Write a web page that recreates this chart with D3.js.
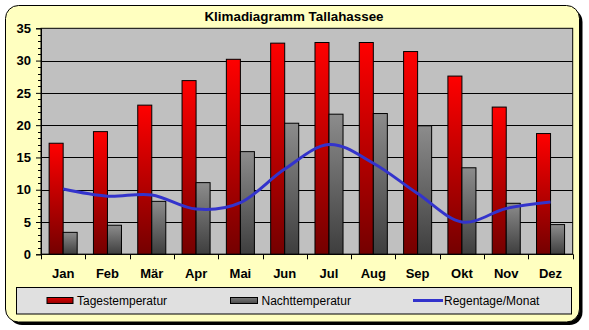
<!DOCTYPE html>
<html><head><meta charset="utf-8">
<script src="https://cdn.jsdelivr.net/npm/d3@7"></script>
<style>body{margin:0;background:#fff}svg{display:block}text{font-family:"Liberation Sans",Arial,sans-serif}</style>
</head><body>
<script>
const months = ["Jan","Feb","Mär","Apr","Mai","Jun","Jul","Aug","Sep","Okt","Nov","Dez"];
const dayTemp = [17.2,19.0,23.1,26.9,30.2,32.7,32.8,32.8,31.4,27.6,22.8,18.7];
const nightTemp = [3.4,4.5,8.2,11.1,15.9,20.3,21.7,21.8,19.9,13.4,7.9,4.6];
const rainDays = [10.1,9.0,9.2,7.0,8.0,13.2,17.0,14.1,9.4,5.0,7.1,8.1];
const yTicks = [0,5,10,15,20,25,30,35];
const seriesNames = ["Tagestemperatur","Nachttemperatur","Regentage/Monat"];
const title = "Klimadiagramm Tallahassee";

const W = 589, H = 330;
const svg = d3.select("body").append("svg").attr("width", W).attr("height", H);
const defs = svg.append("defs");
const gr = defs.append("linearGradient").attr("id","gRed").attr("x1",0).attr("y1",0).attr("x2",0).attr("y2",1);
gr.append("stop").attr("offset","0%").attr("stop-color","#ff0000");
gr.append("stop").attr("offset","100%").attr("stop-color","#740000");
const gg = defs.append("linearGradient").attr("id","gGray").attr("x1",0).attr("y1",0).attr("x2",0).attr("y2",1);
gg.append("stop").attr("offset","0%").attr("stop-color","#8c8c8c");
gg.append("stop").attr("offset","100%").attr("stop-color","#3e3e3e");
const grH = defs.append("linearGradient").attr("id","gRedH").attr("x1",0).attr("y1",0).attr("x2",0).attr("y2",1);
grH.append("stop").attr("offset","0%").attr("stop-color","#e00000");
grH.append("stop").attr("offset","100%").attr("stop-color","#900000");
const ggH = defs.append("linearGradient").attr("id","gGrayH").attr("x1",0).attr("y1",0).attr("x2",0).attr("y2",1);
ggH.append("stop").attr("offset","0%").attr("stop-color","#7a7a7a");
ggH.append("stop").attr("offset","100%").attr("stop-color","#4a4a4a");

// frame with shadow
svg.append("rect").attr("x",9).attr("y",9).attr("width",573.5).attr("height",316).attr("rx",13).attr("fill","#000");
svg.append("rect").attr("x",5.5).attr("y",5.5).attr("width",574).attr("height",316.5).attr("rx",13)
  .attr("fill","#ffffc0").attr("stroke","#000").attr("stroke-width",1);

svg.append("text").attr("x",294).attr("y",21).attr("text-anchor","middle")
  .attr("font-size",13.4).attr("font-weight","bold").text(title);

const L = 41, R = 572.7, T = 28.3, B = 254.3;
const x = d3.scaleBand().domain(months).range([L, R]).padding(0);
const xs = d3.scaleBand().domain(["d","n"]).range([0, x.bandwidth()]).paddingInner(0).paddingOuter(0.58);
const y = d3.scaleLinear().domain([0,35]).range([B, T]);

svg.append("rect").attr("x",L).attr("y",T).attr("width",R-L).attr("height",B-T)
  .attr("fill","#c0c0c0").attr("stroke","#000").attr("stroke-width",1);

// gridlines
svg.append("g").selectAll("line").data(yTicks.filter(d=>d>0&&d<35)).join("line")
  .attr("x1",L).attr("x2",R).attr("y1",d=>Math.round(y(d))+0.5).attr("y2",d=>Math.round(y(d))+0.5)
  .attr("stroke","#000").attr("stroke-width",1);

// bars
const bars = svg.append("g");
bars.selectAll("rect.d").data(dayTemp).join("rect")
  .attr("x",(d,i)=>x(months[i])+xs("d")).attr("width",xs.bandwidth())
  .attr("y",d=>y(d)).attr("height",d=>B-y(d))
  .attr("fill","url(#gRed)").attr("stroke","#000").attr("stroke-width",1);
bars.selectAll("rect.n").data(nightTemp).join("rect").attr("class","n")
  .attr("x",(d,i)=>x(months[i])+xs("n")).attr("width",xs.bandwidth())
  .attr("y",d=>y(d)).attr("height",d=>B-y(d))
  .attr("fill","url(#gGray)").attr("stroke","#000").attr("stroke-width",1);

// line
const line = d3.line().x((d,i)=>x(months[i])+x.bandwidth()/2).y(d=>y(d)).curve(d3.curveCatmullRom.alpha(0));
svg.append("path").attr("d",line(rainDays)).attr("fill","none").attr("stroke","#3333cc").attr("stroke-width",3);

// y axis
const yAxis = d3.axisLeft(y).tickValues(yTicks).tickSize(5).tickPadding(5);
const ya = svg.append("g").attr("transform",`translate(${L},0)`).call(yAxis);
ya.select(".domain").attr("stroke","#000");
ya.selectAll("text").attr("font-size",13).attr("font-weight","bold").attr("fill","#000").attr("font-family","Liberation Sans, Arial, sans-serif");
const minor = d3.range(0,36).filter(d=>d%5!==0);
svg.append("g").selectAll("line").data(minor).join("line")
  .attr("x1",L-3).attr("x2",L).attr("y1",d=>Math.round(y(d))+0.5).attr("y2",d=>Math.round(y(d))+0.5)
  .attr("stroke","#000");

// x axis
const xb = svg.append("g").attr("transform",`translate(0,${B})`);
xb.append("line").attr("x1",L).attr("x2",R).attr("stroke","#000");
const bounds = months.map(m=>x(m)).concat([R]);
xb.selectAll("line.t").data(bounds).join("line").attr("class","t")
  .attr("x1",d=>Math.round(d)+0.5).attr("x2",d=>Math.round(d)+0.5).attr("y1",0).attr("y2",5).attr("stroke","#000");
xb.selectAll("text").data(months).join("text")
  .attr("x",d=>x(d)+x.bandwidth()/2).attr("y",24).attr("text-anchor","middle")
  .attr("font-size",13).attr("font-weight","bold").text(d=>d);

// legend
svg.append("rect").attr("x",16.5).attr("y",287.5).attr("width",555).attr("height",26.5)
  .attr("fill","#e0e0e0").attr("stroke","#000");
const lg = svg.append("g");
lg.append("rect").attr("x",47).attr("y",297.5).attr("width",26).attr("height",6).attr("fill","url(#gRedH)").attr("stroke","#000");
lg.append("text").attr("x",77).attr("y",305).attr("font-size",12).text(seriesNames[0]);
lg.append("rect").attr("x",230.5).attr("y",297.5).attr("width",27).attr("height",6).attr("fill","url(#gGrayH)").attr("stroke","#000");
lg.append("text").attr("x",261.5).attr("y",305).attr("font-size",12).text(seriesNames[1]);
lg.append("line").attr("x1",413).attr("x2",443).attr("y1",300.5).attr("y2",300.5).attr("stroke","#3333cc").attr("stroke-width",3);
lg.append("text").attr("x",444).attr("y",305).attr("font-size",12).text(seriesNames[2]);
</script>
</body></html>
